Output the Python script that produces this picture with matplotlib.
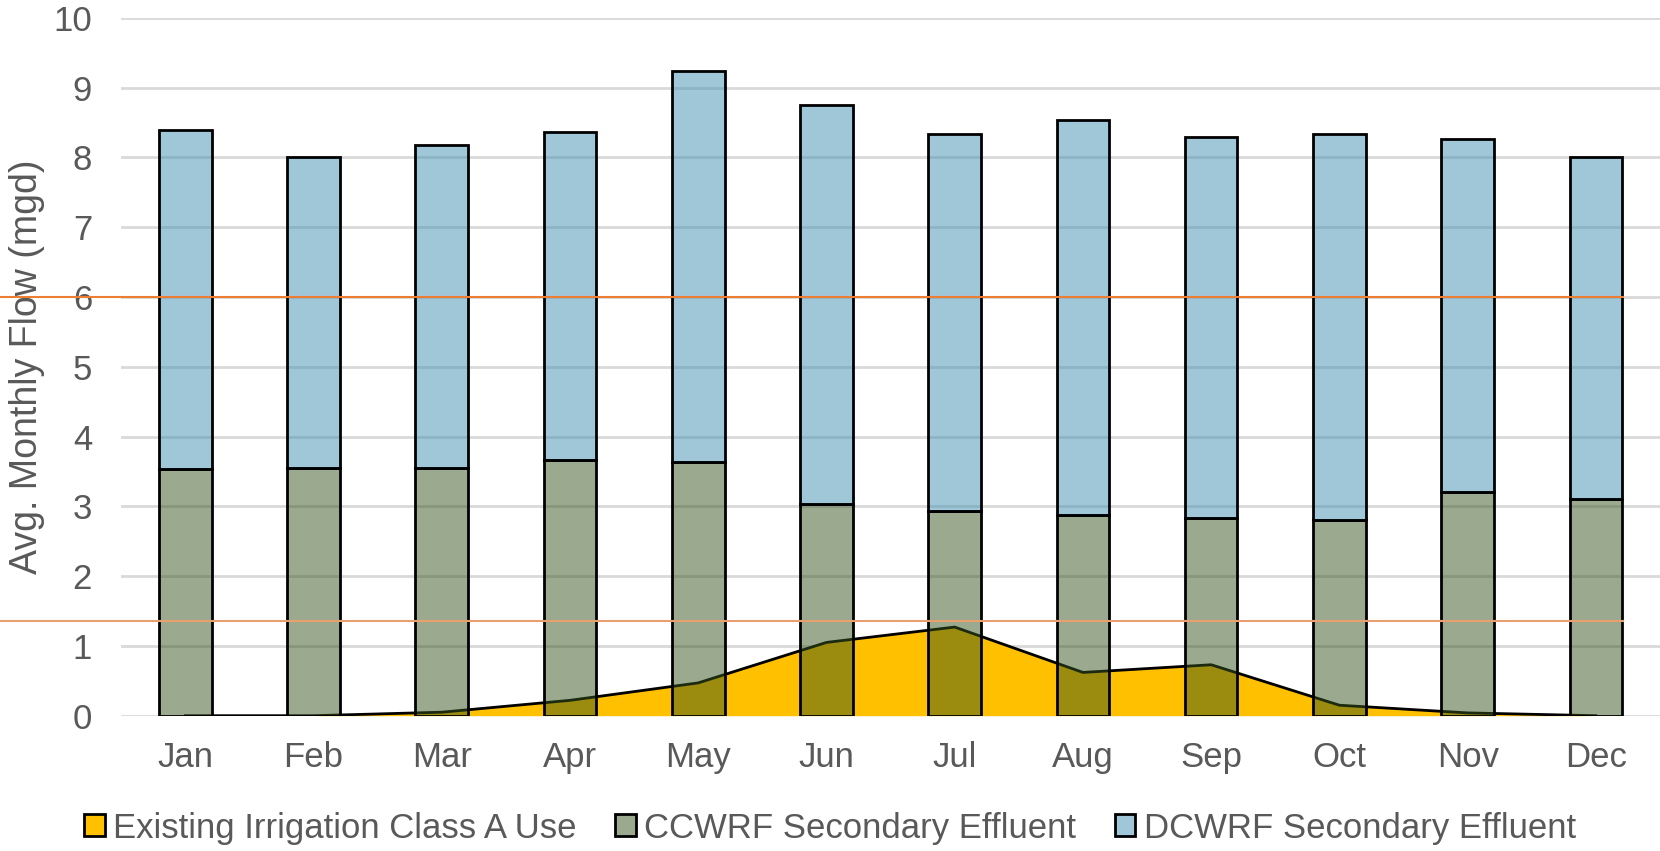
import matplotlib.pyplot as plt
from matplotlib.patches import Patch

months = ['Jan', 'Feb', 'Mar', 'Apr', 'May', 'Jun', 'Jul', 'Aug', 'Sep', 'Oct', 'Nov', 'Dec']
irrigation = [0.0, 0.0, 0.05, 0.22, 0.47, 1.05, 1.27, 0.62, 0.73, 0.15, 0.04, 0.0]
ccwrf = [3.53, 3.55, 3.55, 3.67, 3.64, 3.04, 2.93, 2.88, 2.83, 2.80, 3.21, 3.10]
totals = [8.39, 8.00, 8.18, 8.37, 9.24, 8.75, 8.34, 8.54, 8.29, 8.33, 8.27, 8.00]
dcwrf = [t - c for t, c in zip(totals, ccwrf)]
ref_lines = [6.0, 1.35]

plt.rcParams['font.family'] = ['Liberation Sans', 'DejaVu Sans']
gris = '#595959'

fig = plt.figure(figsize=(16.6, 8.51), dpi=100)
ax = fig.add_axes([0.073, 0.159, 0.927, 0.82])

x = list(range(len(months)))

# area de riego
ax.fill_between(x, irrigation, color='#FFC000', zorder=2, linewidth=0)
ax.plot(x, irrigation, color='black', lw=2, zorder=2.5)

verde = (0.22, 0.34, 0.12, 0.5)
azul = (0.25, 0.57, 0.69, 0.5)
ax.bar(x, ccwrf, width=0.41, color=verde, edgecolor='black', linewidth=2, zorder=3)
ax.bar(x, dcwrf, bottom=ccwrf, width=0.41, color=azul, edgecolor='black', linewidth=2, zorder=3)

ax.set_xlim(-0.5, 11.5)
ax.set_ylim(0, 10)
ax.set_yticks(range(0, 11))
ax.set_xticks(x)
ax.set_xticklabels(months)
ax.tick_params(axis='both', length=0, labelsize=25, colors=gris)
ax.tick_params(axis='y', pad=21)
ax.tick_params(axis='x', pad=18)
ax.grid(axis='y', color='#D9D9D9', lw=2, zorder=0)
ax.set_axisbelow(True)
for s in ax.spines.values():
    s.set_visible(False)
ax.set_ylabel('Avg. Monthly Flow (mgd)', fontsize=27, color=gris, labelpad=6)

# lineas naranjas
ax.axhline(ref_lines[0], xmin=-0.079, xmax=0.976, color='#ED7D31', lw=1.5, clip_on=False, zorder=4)
ax.axhline(ref_lines[1], xmin=-0.079, xmax=0.976, color='#E8A070', lw=1.5, clip_on=False, zorder=4)

handles = [Patch(facecolor='#FFC000', edgecolor='black', lw=2),
           Patch(facecolor=verde, edgecolor='black', lw=2),
           Patch(facecolor=azul, edgecolor='black', lw=2)]
labels = ['Existing Irrigation Class A Use', 'CCWRF Secondary Effluent', 'DCWRF Secondary Effluent']
fig.legend(handles, labels, loc='center', bbox_to_anchor=(0.5, 0.027), ncol=3, frameon=False,
           fontsize=25, labelcolor=gris, handlelength=0.6, handleheight=0.6, handletextpad=0.25,
           columnspacing=1.1)

plt.savefig('out.png')
